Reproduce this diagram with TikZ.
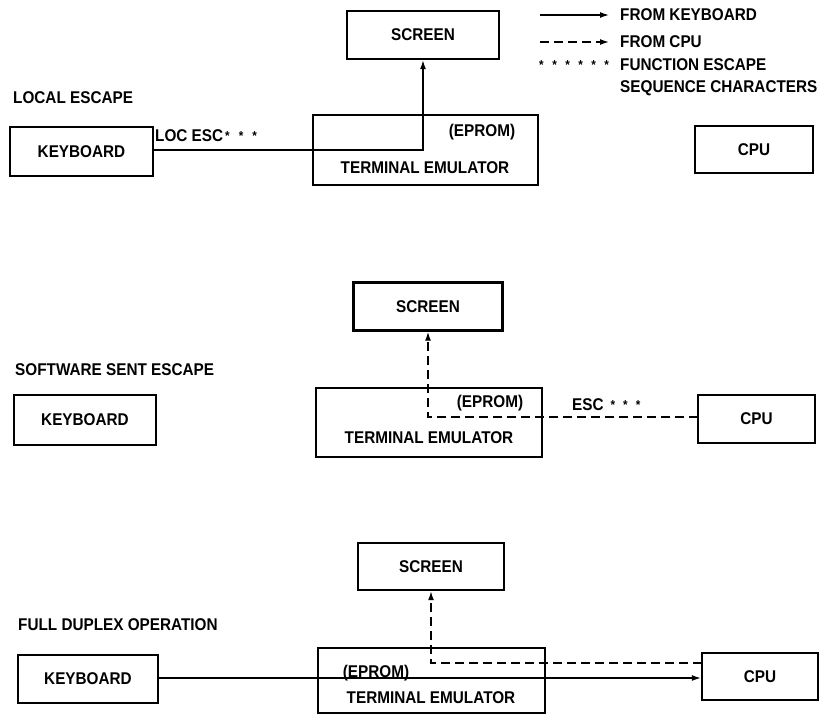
\documentclass[tikz,border=0pt]{standalone}
\usepackage{fontspec}
\setmainfont{Liberation Sans}[FakeStretch=0.9]
\usetikzlibrary{arrows.meta}
\newcommand{\smallstar}{{\fontsize{13}{13}\selectfont\raisebox{1pt}{*}}}
\newcommand{\starsep}{\hspace{8.5pt}}
\begin{document}
\begin{tikzpicture}[x=1pt,y=-1pt,
  every node/.style={font=\fontsize{17}{20}\selectfont\bfseries, inner sep=0pt},
  box/.style={draw, line width=2.4pt, rectangle},
  lbl/.style={anchor=west},
  conn/.style={line width=1.3pt},
  dsh/.style={line width=1.4pt, dash pattern=on 9pt off 5pt},
  tip/.style={-{Latex[length=9pt,width=6pt]}}]
\useasboundingbox (0,0) rectangle (827,715);

% ---------- Legend ----------
\coordinate (la1) at (540,15); \coordinate (lb1) at (609,15);
\coordinate (la2) at (540,42); \coordinate (lb2) at (609,42);
\draw[conn,tip] (la1) -- (lb1);
\draw[dsh,tip] (la2) -- (lb2);
\node[lbl] (lg1) at (620,15) {FROM KEYBOARD};
\node[lbl] (lg2) at (620,42) {FROM CPU};
\node[lbl] (lgs) at (539,66) {\smallstar\starsep\smallstar\starsep\smallstar\starsep\smallstar\starsep\smallstar\starsep\smallstar};
\node[lbl] (lg3) at (620,65) {FUNCTION ESCAPE};
\node[lbl] (lg4) at (620,88) {SEQUENCE CHARACTERS};

% ---------- Panel 1: Local escape ----------
\node[lbl] (t1) at (13,98) {LOCAL ESCAPE};
\node[box, minimum width=143, minimum height=49] (kb1) at (81.5,151.5) {KEYBOARD};
\node[box, minimum width=152, minimum height=48] (scr1) at (423,35) {SCREEN};
\node[box, minimum width=225, minimum height=70] (te1) at (425.5,150) {};
\node (ep1) at (482,132) {(EPROM)};
\node (tt1) at (425,168) {TERMINAL EMULATOR};
\node[box, minimum width=118, minimum height=47] (cpu1) at (754,149.5) {CPU};
\draw[conn,tip] (kb1.east |- 0,150) -| (scr1.south);
\node[lbl] (esc1) at (155,136) {LOC ESC\hspace{2pt}\smallstar\hspace{9pt}\smallstar\hspace{9pt}\smallstar};

% ---------- Panel 2: Software sent escape ----------
\node[lbl] (t2) at (15,370) {SOFTWARE SENT ESCAPE};
\node[box, minimum width=142, minimum height=50] (kb2) at (85,420) {KEYBOARD};
\node[box, minimum width=149, minimum height=48] (scr2) at (428,306.5) {SCREEN};
\node[box, minimum width=226, minimum height=69] (te2) at (429,422.5) {};
\node (ep2) at (490,403) {(EPROM)};
\node (tt2) at (429,438) {TERMINAL EMULATOR};
\node[box, minimum width=117, minimum height=48] (cpu2) at (756.5,419) {CPU};
\coordinate (d2) at (698,417);
\draw[dsh,tip] (d2) -| (scr2.south);
\node[lbl] (esc2) at (572,405) {ESC\hspace{7pt}\smallstar\hspace{8pt}\smallstar\hspace{8pt}\smallstar};

% ---------- Panel 3: Full duplex operation ----------
\node[lbl] (t3) at (18,625) {FULL DUPLEX OPERATION};
\node[box, minimum width=140, minimum height=48] (kb3) at (88,679) {KEYBOARD};
\node[box, minimum width=146, minimum height=47] (scr3) at (431,566.5) {SCREEN};
\node[box, minimum width=227, minimum height=65] (te3) at (431.5,680.5) {};
\node (ep3) at (376,673) {(EPROM)};
\node (tt3) at (431,698) {TERMINAL EMULATOR};
\node[box, minimum width=116, minimum height=47] (cpu3) at (760,676.5) {CPU};
\coordinate (k3) at (158,678);
\draw[conn,tip] (k3) -- (k3 -| cpu3.west);
\coordinate (d3) at (702,663);
\draw[dsh,tip] (d3) -| (scr3.south);
\end{tikzpicture}
\end{document}
